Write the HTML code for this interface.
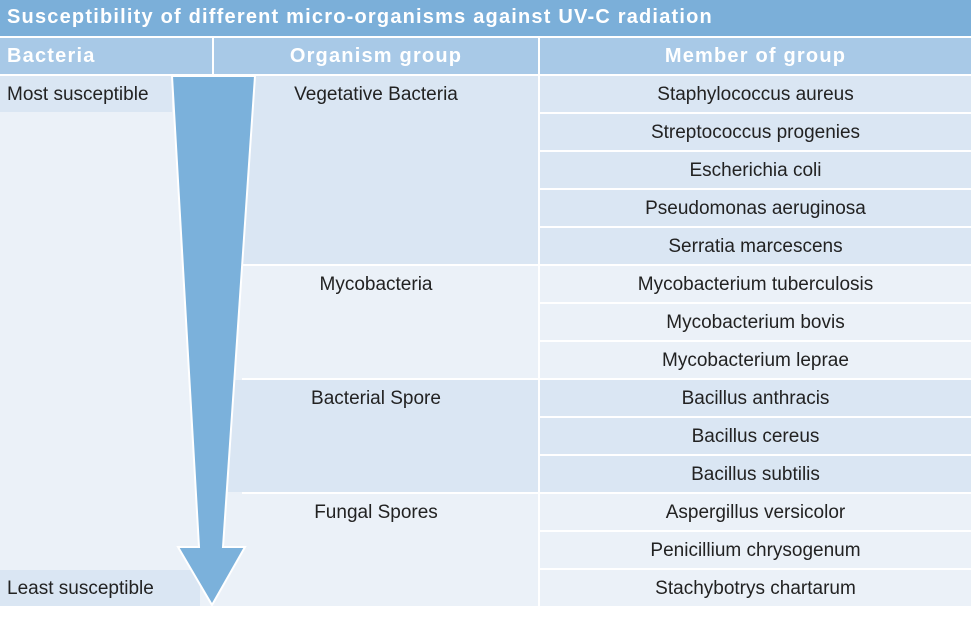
<!DOCTYPE html>
<html><head><style>
body{margin:0;width:971px;height:622px;background:#fff;position:relative;overflow:hidden;font-family:"Liberation Sans",sans-serif;}
div{position:absolute;box-sizing:border-box}
.t{color:#fff;font-weight:bold;font-size:20px;letter-spacing:1.2px}
.c{font-size:19px;color:#222;text-align:center;line-height:37px}
.d{background:#dae6f3}.l{background:#ebf1f8}
</style></head><body>
<div style="left:0;top:0;width:971px;height:36px;background:#7bafd9"></div>
<div class="t" style="left:7px;top:6px">Susceptibility of different micro-organisms against UV-C radiation</div>
<div style="left:0;top:38px;width:212px;height:36px;background:#a8c9e7"></div>
<div style="left:214px;top:38px;width:324px;height:36px;background:#a8c9e7"></div>
<div style="left:540px;top:38px;width:431px;height:36px;background:#a8c9e7"></div>
<div class="t" style="left:7px;top:45px">Bacteria</div>
<div class="t" style="left:214px;top:45px;width:324px;text-align:center">Organism group</div>
<div class="t" style="left:540px;top:45px;width:431px;text-align:center">Member of group</div>
<div class="l" style="left:0;top:76px;width:242px;height:530px"></div>
<div class="d" style="left:0;top:76px;width:172px;height:36px"></div>
<div class="d" style="left:0;top:570px;width:200px;height:36px"></div>
<div class="c" style="left:7px;top:76px;text-align:left">Most susceptible</div>
<div class="c" style="left:7px;top:570px;text-align:left">Least susceptible</div>
<div class="d" style="left:242px;top:76px;width:296px;height:188px"></div>
<div class="l" style="left:242px;top:266px;width:296px;height:112px"></div>
<div class="d" style="left:228px;top:380px;width:310px;height:112px"></div>
<div class="l" style="left:222px;top:494px;width:316px;height:112px"></div>
<div class="c" style="left:214px;top:76px;width:324px">Vegetative Bacteria</div>
<div class="c" style="left:214px;top:266px;width:324px">Mycobacteria</div>
<div class="c" style="left:214px;top:380px;width:324px">Bacterial Spore</div>
<div class="c" style="left:214px;top:494px;width:324px">Fungal Spores</div>
<div class="d c" style="left:540px;top:76px;width:431px;height:36px">Staphylococcus aureus</div>
<div class="d c" style="left:540px;top:114px;width:431px;height:36px">Streptococcus progenies</div>
<div class="d c" style="left:540px;top:152px;width:431px;height:36px">Escherichia coli</div>
<div class="d c" style="left:540px;top:190px;width:431px;height:36px">Pseudomonas aeruginosa</div>
<div class="d c" style="left:540px;top:228px;width:431px;height:36px">Serratia marcescens</div>
<div class="l c" style="left:540px;top:266px;width:431px;height:36px">Mycobacterium tuberculosis</div>
<div class="l c" style="left:540px;top:304px;width:431px;height:36px">Mycobacterium bovis</div>
<div class="l c" style="left:540px;top:342px;width:431px;height:36px">Mycobacterium leprae</div>
<div class="d c" style="left:540px;top:380px;width:431px;height:36px">Bacillus anthracis</div>
<div class="d c" style="left:540px;top:418px;width:431px;height:36px">Bacillus cereus</div>
<div class="d c" style="left:540px;top:456px;width:431px;height:36px">Bacillus subtilis</div>
<div class="l c" style="left:540px;top:494px;width:431px;height:36px">Aspergillus versicolor</div>
<div class="l c" style="left:540px;top:532px;width:431px;height:36px">Penicillium chrysogenum</div>
<div class="l c" style="left:540px;top:570px;width:431px;height:36px">Stachybotrys chartarum</div>
<svg style="position:absolute;left:0;top:0" width="971" height="622">
<polygon points="172,76 255,76 223,547 245,547 212,605 178,547 199,547" fill="#7bb1db" stroke="#fff" stroke-width="2"/>
</svg>
</body></html>
